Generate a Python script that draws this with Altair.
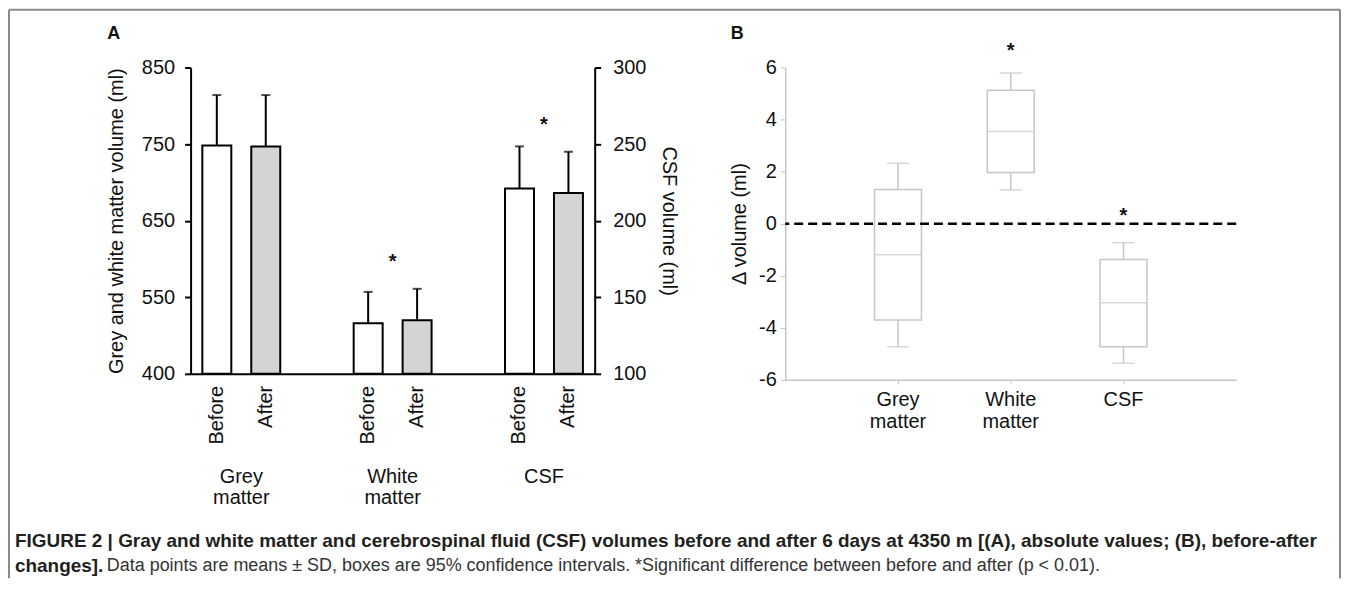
import altair as alt
import pandas as pd

# ---------------- data ----------------
groups = ["Grey matter", "White matter", "CSF"]
times = ["Before", "After"]

mean_gm = [748, 747]
sd_gm = [66, 67]
mean_wm = [516, 520]
sd_wm = [41, 41]
mean_csf = [221, 218]
sd_csf = [27.5, 27]

star_a_left_group = ["White matter"]
star_a_left_y = [602]
star_a_right_group = ["CSF"]
star_a_right_y = [266]

left_domain = [450, 850]
left_ticks = [450, 550, 650, 750, 850]
left_tick_labels = ["400", "550", "650", "750", "850"]
right_domain = [100, 300]
right_ticks = [100, 150, 200, 250, 300]

b_lo = [-4.73, 1.30, -5.36]
b_q1 = [-3.70, 1.97, -4.73]
b_med = [-1.19, 3.54, -3.04]
b_q3 = [1.31, 5.13, -1.38]
b_hi = [2.32, 5.79, -0.73]
b_star_groups = ["White matter", "CSF"]
b_star_y = [6.83, 0.48]
b_ticks = [-6, -4, -2, 0, 2, 4, 6]

caption_1 = ("FIGURE 2 | Gray and white matter and cerebrospinal fluid (CSF) volumes before and after "
             "6 days at 4350 m [(A), absolute values; (B), before-after")
caption_2a = "changes]."
caption_2b = ("Data points are means \u00b1 SD, boxes are 95% confidence intervals. "
              "*Significant difference between before and after (p < 0.01).")

# ---------------- tables ----------------
dfL = pd.DataFrame({
    "group": [groups[0]] * 2 + [groups[1]] * 2,
    "time": times * 2,
    "mean": mean_gm + mean_wm,
    "sd": sd_gm + sd_wm,
})
dfL["top"] = dfL["mean"] + dfL["sd"]
dfR = pd.DataFrame({"group": [groups[2]] * 2, "time": times, "mean": mean_csf, "sd": sd_csf})
dfR["top"] = dfR["mean"] + dfR["sd"]
dfAll = pd.concat([dfL, dfR], ignore_index=True)
dfGroups = pd.DataFrame({"group": groups, "label": [g.replace(" ", "\n") for g in groups]})
dfStarL = pd.DataFrame({"group": star_a_left_group, "y": star_a_left_y})
dfStarR = pd.DataFrame({"group": star_a_right_group, "y": star_a_right_y})

dfB = pd.DataFrame({"group": groups, "lo": b_lo, "q1": b_q1, "med": b_med, "q3": b_q3, "hi": b_hi})
dfBStar = pd.DataFrame({"group": b_star_groups, "y": b_star_y})
one = pd.DataFrame({"k": [0]})

FONT = "Liberation Sans, Arial, Helvetica, sans-serif"
WA, HA = 405, 307
WB, HB = 452, 313

# ---------------- panel A ----------------
XA = alt.X("group:N", scale=alt.Scale(domain=groups, paddingInner=0.33, paddingOuter=0),
           axis=alt.Axis(labels=False, ticks=False, title=None, domainColor="black", domainWidth=2))
XO = alt.XOffset("time:N", scale=alt.Scale(domain=times, paddingInner=0.408, paddingOuter=0.24))
FILL = alt.Fill("time:N", scale=alt.Scale(domain=times, range=["white", "#d4d4d4"]), legend=None)

expr = "datum.label"
for v, lab in reversed(list(zip(left_ticks, left_tick_labels))):
    expr = f"datum.value == {v} ? '{lab}' : ({expr})"

axis_common = dict(domainColor="black", domainWidth=2, tickColor="black", tickWidth=2, tickSize=6,
                   labelFontSize=20, titleFontSize=20, titleFontWeight="normal", grid=False,
                   labelColor="#111", titleColor="#111")

YL = alt.Y("mean:Q", scale=alt.Scale(domain=left_domain, nice=False, zero=False),
           axis=alt.Axis(values=left_ticks, labelExpr=expr, title="Grey and white matter volume (ml)",
                         orient="left", labelPadding=10, titlePadding=15, **axis_common))
YR = alt.Y("mean:Q", scale=alt.Scale(domain=right_domain, nice=False, zero=False),
           axis=alt.Axis(values=right_ticks, title="CSF volume (ml)", orient="right",
                         labelPadding=12, titlePadding=13, **axis_common))

def side(df, Y, base_value, stars):
    base = alt.Chart(df)
    bars = base.mark_bar(stroke="black", strokeWidth=2).encode(
        x=XA, xOffset=XO, y=Y, y2=alt.datum(base_value), fill=FILL)
    err = base.mark_rule(color="black", strokeWidth=2).encode(
        x=XA, xOffset=XO, y=alt.Y("mean:Q"), y2="top:Q")
    cap = base.mark_tick(color="black", thickness=2, size=9).encode(
        x=XA, xOffset=XO, y=alt.Y("top:Q"))
    star = alt.Chart(stars).mark_text(text="*", fontSize=20, fontWeight="bold", baseline="alphabetic",
                                      dy=11, color="#111").encode(x=XA, y=alt.Y("y:Q"))
    return alt.layer(bars, err, cap, star)

left = side(dfL, YL, left_domain[0], dfStarL)
right = side(dfR, YR, right_domain[0], dfStarR)

time_lbl = alt.Chart(dfAll).mark_text(angle=270, align="right", baseline="middle", fontSize=20,
                                      color="#111").encode(
    x=XA, xOffset=XO, y=alt.value(HA + 12), text="time:N")
grp_lbl = alt.Chart(dfGroups).mark_text(lineBreak="\n", lineHeight=21.5, baseline="middle",
                                        fontSize=20, color="#111", dy=-10).encode(
    x=XA, y=alt.value(420), text="label:N")

letterA = alt.Chart(one).mark_text(text="A", fontSize=18, fontWeight="bold", color="#111",
                                   align="center", baseline="middle").encode(
    x=alt.value(-77), y=alt.value(-34))

frame_col = "#8a8a8a"
frame_l = alt.Chart(one).mark_rule(color=frame_col, strokeWidth=2).encode(
    x=alt.value(-182), y=alt.value(-58), y2=alt.value(512))
frame_t = alt.Chart(one).mark_rule(color=frame_col, strokeWidth=2).encode(
    x=alt.value(-182), x2=alt.value(1152), y=alt.value(-58))
frame_r = alt.Chart(one).mark_rule(color=frame_col, strokeWidth=2).encode(
    x=alt.value(1152), y=alt.value(-58), y2=alt.value(512))

cap1 = alt.Chart(one).mark_text(text=caption_1, fontSize=19, fontWeight="bold", color="#231f20",
                                align="left", baseline="middle").encode(
    x=alt.value(-176), y=alt.value(475))
cap2a = alt.Chart(one).mark_text(text=caption_2a, fontSize=19, fontWeight="bold", color="#231f20",
                                 align="left", baseline="middle").encode(
    x=alt.value(-176), y=alt.value(500))
cap2b = alt.Chart(one).mark_text(text=caption_2b, fontSize=18, color="#333333",
                                 align="left", baseline="middle").encode(
    x=alt.value(-84), y=alt.value(500))

panelA = alt.layer(
    left, right, time_lbl, grp_lbl, letterA, frame_l, frame_t, frame_r, cap1, cap2a, cap2b
).resolve_scale(y="independent").properties(width=WA, height=HA)

# ---------------- panel B ----------------
gray = "#c6c6c6"
XB = alt.X("group:N", scale=alt.Scale(domain=groups, paddingInner=0, paddingOuter=0.5),
           axis=alt.Axis(title=None, labelExpr="split(datum.label, ' ')", labelAngle=0,
                         labelFontSize=20, labelLineHeight=21.5, labelColor="#111",
                         domainColor=gray, domainWidth=1.5, tickColor=gray, tickSize=4,
                         labelPadding=6, grid=False))
YB = alt.Y("q1:Q", scale=alt.Scale(domain=[-6, 6], nice=False),
           axis=alt.Axis(values=b_ticks, title="\u0394 volume (ml)", labelFontSize=20, titleFontSize=20,
                         labelExpr="datum.value < 0 ? '-' + abs(datum.value) : datum.label",
                         titleFontWeight="normal", labelColor="#111", titleColor="#111",
                         domainColor=gray, domainWidth=1.5, tickColor=gray, tickSize=5,
                         labelPadding=4, titlePadding=9, grid=False))

bb = alt.Chart(dfB)
box = bb.mark_bar(size=47, fill="white", stroke=gray, strokeWidth=1.5).encode(x=XB, y=YB, y2="q3:Q")
med = bb.mark_tick(size=47, thickness=1.5, color=gray).encode(x=XB, y=alt.Y("med:Q"))
wh_hi = bb.mark_rule(color=gray, strokeWidth=1.5).encode(x=XB, y=alt.Y("q3:Q"), y2="hi:Q")
wh_lo = bb.mark_rule(color=gray, strokeWidth=1.5).encode(x=XB, y=alt.Y("lo:Q"), y2="q1:Q")
cap_hi = bb.mark_tick(size=22, thickness=1.5, color=gray).encode(x=XB, y=alt.Y("hi:Q"))
cap_lo = bb.mark_tick(size=22, thickness=1.5, color=gray).encode(x=XB, y=alt.Y("lo:Q"))
zero = alt.Chart(one).mark_rule(color="black", strokeWidth=2.5, strokeDash=[9, 5]).encode(y=alt.datum(0))
starB = alt.Chart(dfBStar).mark_text(text="*", fontSize=20, fontWeight="bold", baseline="alphabetic",
                                     dy=11, color="#111").encode(x=XB, y=alt.Y("y:Q"))
letterB = alt.Chart(one).mark_text(text="B", fontSize=18, fontWeight="bold", color="#111",
                                   align="center", baseline="middle").encode(
    x=alt.value(-48), y=alt.value(-34))

panelB = alt.layer(wh_hi, wh_lo, cap_hi, cap_lo, box, med, zero, starB, letterB).properties(
    width=WB, height=HB)

chart = alt.hconcat(panelA, panelB, spacing=191, bounds="flush").properties(
    padding=0, background="white"
).configure(font=FONT).configure_view(stroke=None)

chart.save("out.html", embed_options={"renderer": "svg", "actions": False})
